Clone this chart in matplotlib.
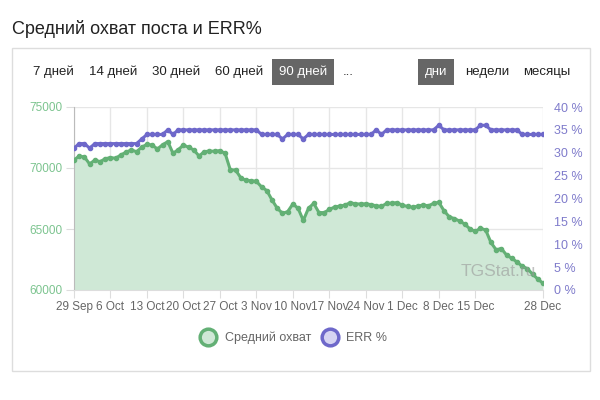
import numpy as np
import pandas as pd
import matplotlib
matplotlib.use("Agg")
import matplotlib.pyplot as plt
from matplotlib.lines import Line2D
from matplotlib.patches import Rectangle

plt.rcParams['font.family'] = ['Liberation Sans', 'DejaVu Sans']

# данные (29 Sep .. 28 Dec, 91 день)
dates = pd.date_range("2019-09-29", "2019-12-28", freq="D")
reach = [70650, 70980, 70900, 70330, 70650, 70520, 70760, 70850, 70800, 71070,
         71300, 71475, 71340, 71700, 71940, 71880, 71560, 71900, 72160, 71200,
         71500, 71880, 71700, 71475, 70980, 71340, 71380, 71380, 71420, 71200,
         69840, 69840, 69200, 68980, 68960, 68900, 68450, 68150, 67380, 66700,
         66290, 66420, 67050, 66700, 65700, 66700, 67100, 66350, 66340, 66600,
         66800, 66880, 66950, 67160, 67060, 67050, 67060, 67000, 66900, 66850,
         67100, 67120, 67160, 66950, 66850, 66780, 66880, 66970, 66900, 67100,
         67190, 66500, 66000, 65850, 65650, 65400, 65000, 64800, 65060, 64920,
         63900, 63300, 63400, 62870, 62600, 62300, 61950, 61750, 61300, 60900,
         60550]
err = [31, 32, 32, 31, 32, 32, 32, 32, 32, 32,
       32, 32, 32, 33, 34, 34, 34, 34, 35, 34,
       35, 35, 35, 35, 35, 35, 35, 35, 35, 35,
       35, 35, 35, 35, 35, 35, 34, 34, 34, 34,
       33, 34, 34, 34, 33, 34, 34, 34, 34, 34,
       34, 34, 34, 34, 34, 34, 34, 34, 35, 34,
       35, 35, 35, 35, 35, 35, 35, 35, 35, 35,
       36, 35, 35, 35, 35, 35, 35, 35, 36, 36,
       35, 35, 35, 35, 35, 35, 34, 34, 34, 34,
       34]
tick_dates = pd.to_datetime(["2019-09-29", "2019-10-06", "2019-10-13", "2019-10-20",
                             "2019-10-27", "2019-11-03", "2019-11-10", "2019-11-17",
                             "2019-11-24", "2019-12-01", "2019-12-08", "2019-12-15",
                             "2019-12-28"])
tick_labels = ["29 Sep", "6 Oct", "13 Oct", "20 Oct", "27 Oct", "3 Nov", "10 Nov",
               "17 Nov", "24 Nov", "1 Dec", "8 Dec", "15 Dec", "28 Dec"]

green = '#63b075'
green_fill = '#cfe8d6'
green_txt = '#7cc48f'
purple = '#6e68ca'
purple_txt = '#7f7bcb'

fig = plt.figure(figsize=(6, 4), dpi=100)
fig.patch.set_facecolor('white')

# рамка и заголовок
fig.add_artist(Rectangle((12/600, 29/400), 578/600, 323/400, transform=fig.transFigure,
                         fill=False, edgecolor='#dddddd', lw=1))
fig.text(12/600, 1 - 29/400, "Средний охват поста и ERR%", fontsize=13,
         color='#222222', va='center', ha='left')

# кнопки
btn_y = 1 - 72/400
for x, t in [(33, "7 дней"), (89, "14 дней"), (152, "30 дней"), (215, "60 дней"),
             (343, "..."), (465, "недели"), (523, "месяцы")]:
    fig.text(x/600, btn_y, t, fontsize=9.5, color='#222222', va='center', ha='left')
for x, t in [(279, "90 дней"), (425, "дни")]:
    fig.text(x/600, btn_y, t, fontsize=9.5, color='white', va='center', ha='left',
             bbox=dict(boxstyle='square,pad=0.5', fc='#666666', ec='none'))

ax = fig.add_axes([74/600, 110/400, 469/600, 183/400])
ax.fill_between(dates, reach, 60000, color=green_fill, lw=0)
ax.plot(dates, reach, color=green, lw=2.2, marker='o', ms=3, zorder=3)
ax.set_ylim(60000, 75000)
ax.set_yticks([60000, 65000, 70000, 75000])
ax.set_xlim(dates[0], dates[-1])
ax.set_xticks(tick_dates)
ax.set_xticklabels(tick_labels)
ax.grid(True, color='#e6e6e6', lw=1)
ax.set_axisbelow(True)
for s in ['top', 'right']:
    ax.spines[s].set_visible(False)
ax.spines['left'].set_color('#bbbbbb')
ax.spines['bottom'].set_color('#dddddd')
ax.tick_params(axis='y', colors='#dddddd', labelcolor=green_txt, labelsize=8.5, length=6, pad=2)
ax.tick_params(axis='x', colors='#dddddd', labelcolor='#666666', labelsize=8.5, length=6, pad=2)

ax2 = ax.twinx()
ax2.plot(dates, err, color=purple, lw=2.2, marker='o', ms=3, zorder=3)
ax2.set_ylim(0, 40)
ax2.set_yticks(range(0, 45, 5))
ax2.set_yticklabels([f"{v} %" for v in range(0, 45, 5)])
for s in ax2.spines.values():
    s.set_visible(False)
ax2.tick_params(axis='y', length=0, pad=8, labelcolor=purple_txt, labelsize=9)

ax.text(0.985, 0.06, "TGStat.ru", transform=ax.transAxes, ha='right', va='bottom',
        fontsize=12.5, color='#999999', alpha=0.6, zorder=5)

handles = [Line2D([], [], ls='none', marker='o', ms=12, mfc=green_fill, mec=green, mew=2.5),
           Line2D([], [], ls='none', marker='o', ms=12, mfc='#d6d4f2', mec=purple, mew=2.5)]
fig.legend(handles, ["Средний охват", "ERR %"], loc='center', bbox_to_anchor=(0.49, 1 - 338/400),
           ncol=2, frameon=False, fontsize=9, labelcolor='#666666', handletextpad=0.7,
           columnspacing=0.9, handlelength=1.2)

fig.savefig("out.png", dpi=100)
